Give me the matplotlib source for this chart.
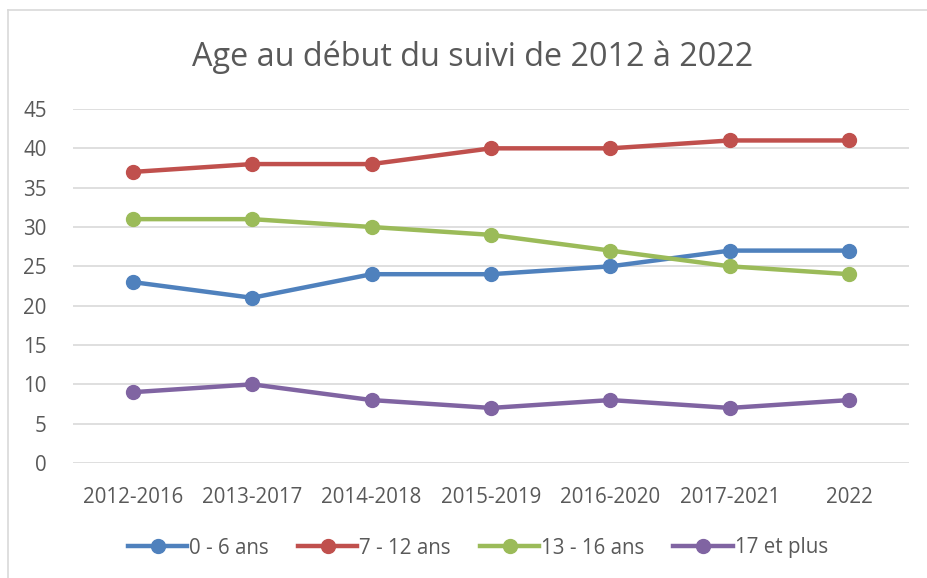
import matplotlib
matplotlib.use("Agg")
import matplotlib.pyplot as plt
from matplotlib.lines import Line2D

categories = ["2012-2016", "2013-2017", "2014-2018", "2015-2019", "2016-2020", "2017-2021", "2022"]
s_0_6 = [23, 21, 24, 24, 25, 27, 27]
s_7_12 = [37, 38, 38, 40, 40, 41, 41]
s_13_16 = [31, 31, 30, 29, 27, 25, 24]
s_17p = [9, 10, 8, 7, 8, 7, 8]
labels = ["0 - 6 ans", "7 - 12 ans", "13 - 16 ans", "17 et plus"]
colors = ["#4F81BD", "#C0504D", "#9BBB59", "#8064A2"]
yticks = [0, 5, 10, 15, 20, 25, 30, 35, 40, 45]

plt.rcParams['font.family'] = ['Open Sans', 'DejaVu Sans']
txt = "#595959"

W, H = 927, 578
fig = plt.figure(figsize=(W / 100, H / 100), dpi=100)
ax = fig.add_axes([73 / W, (H - 463) / H, (909 - 73) / W, (463 - 109) / H])

x = list(range(len(categories)))
for ys, c, lab in zip([s_0_6, s_7_12, s_13_16, s_17p], colors, labels):
    ax.plot(x, ys, color=c, lw=3.2, marker='o', ms=10, label=lab, solid_capstyle='round', zorder=3)

ax.set_xlim(-0.5, len(categories) - 0.5)
ax.set_ylim(0, 45)
ax.set_yticks(yticks)
ax.set_xticks(x)
ax.set_xticklabels(categories)
ax.grid(axis='y', color='#D9D9D9', lw=1.2)
ax.set_axisbelow(True)
for s in ax.spines.values():
    s.set_visible(False)
ax.tick_params(length=0, labelsize=14.8, colors=txt)
ax.tick_params(axis='y', pad=19)
ax.tick_params(axis='x', pad=17)
for t in ax.get_yticklabels():
    t.set_horizontalalignment('right')

fig.text(473 / W, 1 - 57 / H, "Age au début du suivi de 2012 à 2022", ha='center', va='center',
         fontsize=23.3, color=txt)

handles = [Line2D([], [], color=c, lw=3.2, marker='o', ms=10) for c in colors]
fig.legend(handles, labels, loc='center', bbox_to_anchor=(478 / W, 1 - 548 / H), ncol=4,
           frameon=False, fontsize=14.8, labelcolor=txt, handlelength=2.9, columnspacing=1.4,
           handletextpad=0.1)

# chart border (top and left visible)
fig.add_artist(Line2D([8 / W, 8 / W], [0, 1 - 10 / H], color='#D9D9D9', lw=1.2, transform=fig.transFigure))
fig.add_artist(Line2D([8 / W, 1], [1 - 10 / H, 1 - 10 / H], color='#D9D9D9', lw=1.2, transform=fig.transFigure))

fig.savefig("out.png", dpi=100)
